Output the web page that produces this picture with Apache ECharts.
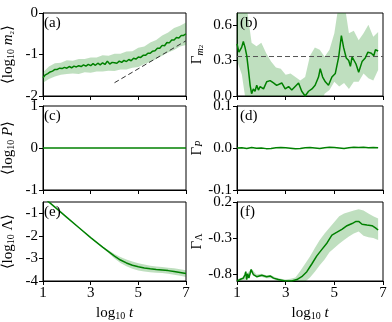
<!DOCTYPE html>
<html>
<head>
<meta charset="utf-8">
<script src="https://cdn.jsdelivr.net/npm/echarts@6/dist/echarts.min.js"></script>
<style>
  html, body { margin: 0; padding: 0; background: #fff; }
  #main { width: 392px; height: 322px; }
</style>
</head>
<body>
<div id="main"></div>
<script>
// x axis (log10 t) ticks, shared by every panel
var xTicks = [1, 3, 5, 7];

// (a) <log10 m2>
var aX = [1.0,1.1,1.2,1.3,1.4,1.5,1.6,1.7,1.8,1.9,2.0,2.1,2.2,2.3,2.4,2.5,2.6,2.7,2.8,2.9,3.0,3.1,3.2,3.3,3.4,3.5,3.6,3.7,3.8,3.9,4.0,4.1,4.2,4.3,4.4,4.5,4.6,4.7,4.8,4.9,5.0,5.1,5.2,5.3,5.4,5.5,5.6,5.7,5.8,5.9,6.0,6.1,6.2,6.3,6.4,6.5,6.6,6.7,6.8,6.9,7.0];
var aY = [-1.56,-1.49,-1.46,-1.42,-1.40,-1.36,-1.36,-1.33,-1.34,-1.31,-1.33,-1.29,-1.32,-1.28,-1.30,-1.27,-1.29,-1.25,-1.28,-1.24,-1.27,-1.22,-1.26,-1.21,-1.25,-1.20,-1.24,-1.16,-1.23,-1.19,-1.20,-1.21,-1.16,-1.19,-1.14,-1.17,-1.12,-1.15,-1.09,-1.11,-1.06,-1.07,-1.02,-1.02,-0.97,-0.97,-0.92,-0.91,-0.85,-0.85,-0.78,-0.79,-0.71,-0.72,-0.65,-0.65,-0.59,-0.60,-0.54,-0.54,-0.50];
var aBandX = [1.0,1.25,1.5,1.75,2.0,2.25,2.5,2.75,3.0,3.25,3.5,3.75,4.0,4.25,4.5,4.75,5.0,5.25,5.5,5.75,6.0,6.25,6.5,6.75,7.0];
var aUpper = [-1.43,-1.29,-1.21,-1.20,-1.14,-1.15,-1.11,-1.11,-1.07,-1.07,-1.02,-1.03,-0.98,-0.98,-0.93,-0.92,-0.84,-0.81,-0.71,-0.65,-0.54,-0.47,-0.36,-0.31,-0.23];
var aLower = [-1.68,-1.59,-1.53,-1.49,-1.47,-1.46,-1.47,-1.43,-1.44,-1.41,-1.41,-1.39,-1.40,-1.36,-1.36,-1.32,-1.30,-1.23,-1.18,-1.11,-1.03,-0.95,-0.89,-0.81,-0.77];
var aFitX = [4, 7];
var aFitY = [-1.68, -0.67];
var aTicks = [-2, -1, 0];

// (b) Gamma_m2
var bX = [1.00,1.08,1.19,1.26,1.33,1.40,1.47,1.54,1.60,1.67,1.74,1.81,1.88,1.95,2.09,2.22,2.36,2.50,2.63,2.70,2.84,2.98,3.12,3.25,3.39,3.53,3.66,3.80,3.94,4.08,4.21,4.35,4.42,4.52,4.63,4.76,4.90,5.04,5.18,5.29,5.38,5.49,5.59,5.66,5.73,5.79,5.89,6.00,6.14,6.27,6.38,6.52,6.62,6.69,6.80];
var bY = [0.44,0.37,0.41,0.46,0.41,0.34,0.22,0.09,0.02,0.06,0.04,0.09,0.05,0.08,0.06,0.12,0.13,0.11,0.09,0.08,0.11,0.06,0.08,0.05,0.08,0.11,0.04,0.00,0.04,0.06,0.09,0.16,0.23,0.16,0.12,0.09,0.16,0.19,0.33,0.51,0.41,0.32,0.30,0.25,0.33,0.34,0.27,0.20,0.29,0.32,0.37,0.36,0.34,0.39,0.38];
var bBandX = [1.0,1.2,1.4,1.6,1.8,2.0,2.2,2.4,2.6,2.8,3.0,3.2,3.4,3.6,3.8,4.0,4.2,4.4,4.6,4.8,5.0,5.2,5.4,5.6,5.8,6.0,6.2,6.4,6.6,6.8];
var bUpper = [0.80,0.80,0.75,0.45,0.42,0.45,0.36,0.29,0.24,0.23,0.18,0.19,0.16,0.13,0.16,0.34,0.41,0.39,0.33,0.39,0.53,0.80,0.80,0.53,0.55,0.47,0.53,0.60,0.50,0.54];
var bLower = [0.30,0.18,-0.10,-0.10,-0.10,-0.10,-0.10,-0.10,-0.10,-0.10,-0.10,-0.10,-0.10,-0.10,-0.10,-0.10,-0.10,-0.10,0.02,0.05,0.12,0.08,0.11,0.06,0.12,0.12,0.19,0.15,0.13,0.22];
var bRefX = [1, 7];
var bRefY = [0.333, 0.333];
var bTicks = [0, 0.3, 0.6];

// (c) <log10 P>
var cX = [1, 7];
var cY = [0, 0];
var cTicks = [-1, 0, 1];

// (d) Gamma_P
var dX = [1.0,1.2,1.4,1.6,1.8,2.0,2.2,2.4,2.6,2.8,3.0,3.2,3.4,3.6,3.8,4.0,4.2,4.4,4.6,4.8,5.0,5.2,5.4,5.6,5.8,6.0,6.2,6.4,6.6,6.8];
var dY = [0,0.0005,-0.001,0.001,-0.0005,0,-0.0015,-0.001,0.0005,0.001,0.0005,-0.0005,-0.002,-0.001,0.0005,0.001,0,-0.001,0.0005,0.0015,0.001,0,-0.001,0.0005,0.0015,0.001,0.0015,0.0005,0.001,0.0005];
var dTicks = [-0.1, 0, 0.1];

// (e) <log10 Lambda>
var eX = [1.0,1.5,2.0,2.5,3.0,3.5,3.75,4.0,4.25,4.5,4.75,5.0,5.25,5.5,5.75,6.0,6.25,6.5,6.75,7.0];
var eY = [-0.28,-0.73,-1.18,-1.63,-2.08,-2.50,-2.70,-2.90,-3.07,-3.20,-3.30,-3.37,-3.42,-3.46,-3.49,-3.51,-3.54,-3.58,-3.62,-3.67];
var eUpper = [-0.28,-0.73,-1.18,-1.63,-2.07,-2.47,-2.64,-2.80,-2.94,-3.05,-3.14,-3.21,-3.27,-3.32,-3.36,-3.38,-3.41,-3.44,-3.48,-3.52];
var eLower = [-0.28,-0.73,-1.18,-1.63,-2.09,-2.53,-2.76,-3.00,-3.20,-3.35,-3.46,-3.54,-3.58,-3.61,-3.63,-3.65,-3.68,-3.72,-3.77,-3.82];
var eTicks = [-4, -3, -2, -1];

// (f) Gamma_Lambda
var fX = [1.00,1.12,1.26,1.33,1.36,1.40,1.44,1.49,1.58,1.67,1.81,2.02,2.22,2.36,2.50,2.70,2.98,3.25,3.46,3.66,3.87,4.08,4.28,4.49,4.70,4.90,5.11,5.31,5.52,5.73,5.89,6.00,6.14,6.34,6.55,6.69,6.80];
var fY = [-0.90,-0.88,-0.86,-0.81,-0.77,-0.88,-0.80,-0.86,-0.74,-0.81,-0.84,-0.82,-0.84,-0.83,-0.86,-0.88,-0.90,-0.90,-0.88,-0.84,-0.77,-0.66,-0.55,-0.46,-0.37,-0.26,-0.22,-0.18,-0.13,-0.10,-0.07,-0.07,-0.11,-0.12,-0.13,-0.16,-0.19];
var fBandX = [1.0,1.2,1.4,1.6,1.8,2.0,2.2,2.4,2.6,2.8,3.0,3.2,3.4,3.6,3.8,4.0,4.2,4.4,4.6,4.8,5.0,5.2,5.4,5.6,5.8,6.0,6.2,6.4,6.6,6.8];
var fUpper = [-0.88,-0.85,-0.80,-0.73,-0.81,-0.80,-0.82,-0.82,-0.85,-0.87,-0.88,-0.87,-0.85,-0.76,-0.66,-0.56,-0.44,-0.33,-0.24,-0.16,-0.08,0.00,0.04,0.06,0.08,0.10,0.08,0.04,0.00,-0.03];
var fLower = [-0.92,-0.89,-0.88,-0.79,-0.85,-0.84,-0.86,-0.86,-0.89,-0.91,-0.92,-0.93,-0.93,-0.92,-0.91,-0.85,-0.77,-0.68,-0.60,-0.50,-0.44,-0.38,-0.33,-0.28,-0.24,-0.21,-0.27,-0.29,-0.30,-0.33];
var fTicks = [-0.8, -0.3, 0.2];

var green = '#008000';
var bandColor = 'rgba(0,128,0,0.25)';
var font = 'Liberation Serif';

var rich = {
  s: { fontFamily: font, fontSize: 10, lineHeight: 10, verticalAlign: 'bottom', color: '#000' },
  i: { fontFamily: font, fontSize: 15, fontStyle: 'italic', color: '#000' },
  si: { fontFamily: font, fontSize: 10, lineHeight: 10, fontStyle: 'italic', verticalAlign: 'bottom', color: '#000' },
  ss: { fontFamily: font, fontSize: 7, lineHeight: 6, verticalAlign: 'bottom', color: '#000' }
};

function pairs(xs, ys) {
  return xs.map(function (x, k) { return [x, ys[k]]; });
}

function lineSeries(g, xs, ys, opts) {
  opts = opts || {};
  return {
    type: 'line', xAxisIndex: g, yAxisIndex: g, symbol: 'none', silent: true,
    data: pairs(xs, ys), z: 3,
    lineStyle: { color: opts.color || green, width: opts.width || 1.5, type: opts.type || 'solid' }
  };
}

// shaded band: one polygon (upper edge forward, lower edge back) drawn through the axes
function bandSeries(g, xs, lower, upper) {
  return {
    type: 'custom', xAxisIndex: g, yAxisIndex: g, silent: true, clip: true, z: 2,
    data: [[xs[0], lower[0]]],
    renderItem: function (params, api) {
      var pts = [];
      for (var k = 0; k < xs.length; k++) pts.push(api.coord([xs[k], upper[k]]));
      for (var k2 = xs.length - 1; k2 >= 0; k2--) pts.push(api.coord([xs[k2], lower[k2]]));
      return { type: 'polygon', shape: { points: pts }, style: { fill: bandColor } };
    }
  };
}

var grids = [
  { left: 41, top: 13, width: 145, height: 83 },
  { left: 237, top: 13, width: 146, height: 83 },
  { left: 41, top: 106, width: 145, height: 84 },
  { left: 237, top: 106, width: 146, height: 84 },
  { left: 41, top: 202, width: 145, height: 84 },
  { left: 237, top: 202, width: 146, height: 84 }
];
grids.forEach(function (g) {
  g.show = true; g.borderColor = '#000'; g.borderWidth = 1;
});

function xAxis(g, showLabels) {
  var ax = {
    type: 'value', gridIndex: g, min: 1, max: 7,
    axisLine: { onZero: false, lineStyle: { color: '#000', width: 1 } },
    axisTick: { length: 4, lineStyle: { color: '#000' }, customValues: xTicks },
    axisLabel: { show: showLabels, customValues: xTicks, color: '#000', fontFamily: font, fontSize: 15, margin: 5 },
    splitLine: { show: false }
  };
  if (showLabels) {
    ax.name = 'log{s|10} {i|t}';
    ax.nameLocation = 'middle';
    ax.nameGap = 25;
    ax.nameTextStyle = { fontFamily: font, fontSize: 15, color: '#000', rich: rich };
  }
  return ax;
}

function yAxis(g, min, max, ticks, digits, name, gap) {
  return {
    type: 'value', gridIndex: g, min: min, max: max,
    axisLine: { onZero: false, lineStyle: { color: '#000', width: 1 } },
    axisTick: { length: 4, lineStyle: { color: '#000' }, customValues: ticks },
    axisLabel: {
      customValues: ticks, color: '#000', fontFamily: font, fontSize: 15, margin: 5,
      formatter: function (v) { return digits ? v.toFixed(digits) : String(Math.round(v)); }
    },
    splitLine: { show: false },
    name: name, nameLocation: 'middle', nameGap: gap,
    nameTextStyle: { fontFamily: font, fontSize: 15, color: '#000', rich: rich }
  };
}

var series = [];
series.push(bandSeries(0, aBandX, aLower, aUpper));
series.push(lineSeries(0, aX, aY));
series.push(lineSeries(0, aFitX, aFitY, { color: '#333', width: 1, type: [5, 3] }));
series.push(bandSeries(1, bBandX, bLower, bUpper));
series.push(lineSeries(1, bRefX, bRefY, { color: '#555', width: 1, type: [5, 3] }));
series.push(lineSeries(1, bX, bY));
series.push(lineSeries(2, cX, cY));
series.push(lineSeries(3, dX, dY));
series.push(bandSeries(4, eX, eLower, eUpper));
series.push(lineSeries(4, eX, eY));
series.push(bandSeries(5, fBandX, fLower, fUpper));
series.push(lineSeries(5, fX, fY));

var panelLabels = ['(a)', '(b)', '(c)', '(d)', '(e)', '(f)'];
var graphics = panelLabels.map(function (t, k) {
  return {
    type: 'text', left: grids[k].left + 3, top: grids[k].top + 3, z: 10,
    style: { text: t, fontFamily: font, fontSize: 15, fill: '#000' }
  };
});

var chart = echarts.init(document.getElementById('main'), null, { renderer: 'canvas' });
chart.setOption({
  animation: false,
  grid: grids,
  xAxis: [xAxis(0, false), xAxis(1, false), xAxis(2, false), xAxis(3, false), xAxis(4, true), xAxis(5, true)],
  yAxis: [
    yAxis(0, -2, 0, aTicks, 0, '⟨log{s|10} {i|m}{ss|2}⟩', 27),
    yAxis(1, 0, 0.7, bTicks, 1, 'Γ{si|m}{ss|2}', 32),
    yAxis(2, -1, 1, cTicks, 0, '⟨log{s|10} {i|P}⟩', 27),
    yAxis(3, -0.1, 0.1, dTicks, 1, 'Γ{si|P}', 32),
    yAxis(4, -4, -0.5, eTicks, 0, '⟨log{s|10} Λ⟩', 27),
    yAxis(5, -0.9, 0.2, fTicks, 1, 'Γ{s|Λ}', 32)
  ],
  graphic: graphics,
  series: series
});
</script>
</body>
</html>
